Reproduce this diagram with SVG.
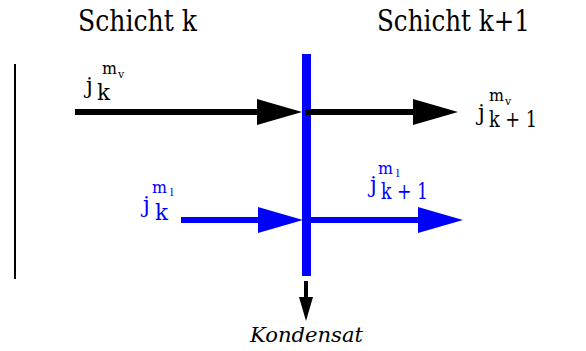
<svg xmlns="http://www.w3.org/2000/svg" width="586" height="351" viewBox="0 0 586 351">
  <style>
    text { font-family: "DejaVu Serif", serif; }
    .title { font-size: 29px; fill: #000; }
    .big { font-size: 22px; }
    .sup { font-size: 16px; }
    .sub2 { font-size: 11px; }
    .blk { fill: #000; }
    .blu { fill: #0000ff; }
    .ital { font-style: italic; font-size: 20px; fill: #000; }
    .lnb { stroke: #000; stroke-width: 6; fill: none; }
    .lnu { stroke: #0000ff; stroke-width: 6; fill: none; }
  </style>
  <defs>
    <marker id="headBlack" markerUnits="userSpaceOnUse" viewBox="0 0 45 26" markerWidth="45" markerHeight="26" refX="0" refY="13" orient="auto">
      <path d="M0,0 L45,13 L0,26 Z" fill="#000"/>
    </marker>
    <marker id="headBlue" markerUnits="userSpaceOnUse" viewBox="0 0 45 26" markerWidth="45" markerHeight="26" refX="0" refY="13" orient="auto">
      <path d="M0,0 L45,13 L0,26 Z" fill="#0000ff"/>
    </marker>
    <marker id="headSmall" markerUnits="userSpaceOnUse" viewBox="0 0 24 14" markerWidth="24" markerHeight="14" refX="0" refY="7" orient="auto">
      <path d="M0,0 L24,7 L0,14 Z" fill="#000"/>
    </marker>
  </defs>

  <g id="titleK"><text class="title" x="78" y="31" textLength="119" lengthAdjust="spacingAndGlyphs">Schicht k</text></g>
  <g id="titleK1"><text class="title" x="377" y="31" textLength="153" lengthAdjust="spacingAndGlyphs">Schicht k+1</text></g>

  <g id="boundaryLeft"><line x1="15" y1="64" x2="15" y2="279" stroke="#000" stroke-width="2"/></g>

  <g id="interface"><rect x="302" y="54" width="9" height="222" fill="#0000ff"/></g>

  <g id="connectors">
    <line class="lnb" x1="75" y1="112" x2="257" y2="112" marker-end="url(#headBlack)"/>
    <line class="lnb" x1="305" y1="112" x2="413" y2="112" marker-end="url(#headBlack)"/>
    <line class="lnu" x1="181" y1="220" x2="258" y2="220" marker-end="url(#headBlue)"/>
    <line class="lnu" x1="305" y1="220" x2="418" y2="220" marker-end="url(#headBlue)"/>
    <line x1="306" y1="281" x2="306" y2="297" stroke="#000" stroke-width="4" marker-end="url(#headSmall)"/>
  </g>

  <g id="label_jk_mv">
    <text class="blk"><tspan class="big" x="86" y="93">j</tspan><tspan class="big" x="97" y="100" textLength="13" lengthAdjust="spacingAndGlyphs">k</tspan><tspan class="sup" x="102" y="74" textLength="15" lengthAdjust="spacingAndGlyphs">m</tspan><tspan class="sub2" x="118" y="78">v</tspan></text>
  </g>

  <g id="label_jk1_mv">
    <text class="blk"><tspan class="big" x="478" y="120">j</tspan><tspan class="big" x="489" y="127" textLength="48" lengthAdjust="spacingAndGlyphs">k + 1</tspan><tspan class="sup" x="489" y="101" textLength="15" lengthAdjust="spacingAndGlyphs">m</tspan><tspan class="sub2" x="505" y="105">v</tspan></text>
  </g>

  <g id="label_jk_ml">
    <text class="blu"><tspan class="big" x="143" y="212">j</tspan><tspan class="big" x="155" y="220" textLength="13" lengthAdjust="spacingAndGlyphs">k</tspan><tspan class="sup" x="152" y="193" textLength="15" lengthAdjust="spacingAndGlyphs">m</tspan><tspan class="sub2" x="170" y="196">l</tspan></text>
  </g>

  <g id="label_jk1_ml">
    <text class="blu"><tspan class="big" x="370" y="192">j</tspan><tspan class="big" x="381" y="199" textLength="47" lengthAdjust="spacingAndGlyphs">k + 1</tspan><tspan class="sup" x="378" y="174" textLength="15" lengthAdjust="spacingAndGlyphs">m</tspan><tspan class="sub2" x="396" y="177">l</tspan></text>
  </g>

  <g id="kondensat"><text class="ital" x="250" y="342" textLength="113" lengthAdjust="spacingAndGlyphs">Kondensat</text></g>
</svg>
